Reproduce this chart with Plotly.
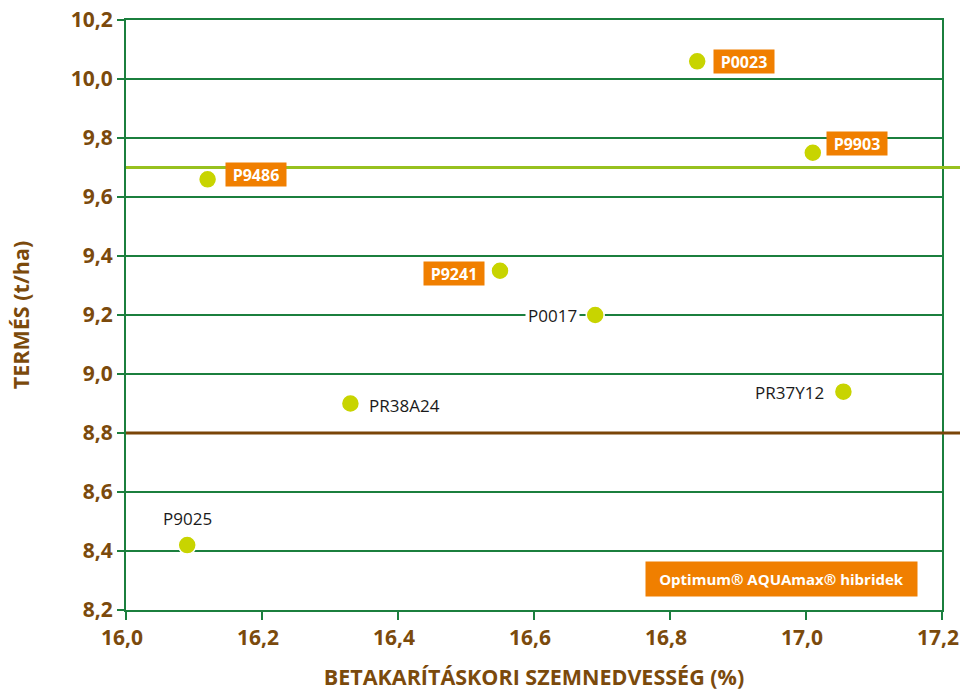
import plotly.graph_objects as go

hybrids = ["P0023", "P9903", "P9486", "P9241", "P0017", "PR38A24", "PR37Y12", "P9025"]
moisture = [16.84, 17.01, 16.12, 16.55, 16.69, 16.33, 17.055, 16.09]
yield_t = [10.06, 9.75, 9.66, 9.35, 9.20, 8.90, 8.94, 8.42]
optimum = [True, True, True, True, False, False, False, False]
label_side = ["right", "right", "right", "left", "left", "right", "left", "top"]
ref_high = 9.7
ref_low = 8.8
x_ticks = [16.0, 16.2, 16.4, 16.6, 16.8, 17.0, 17.2]
y_ticks = [8.2, 8.4, 8.6, 8.8, 9.0, 9.2, 9.4, 9.6, 9.8, 10.0, 10.2]

# label offsets in pixels (style only)
label_dx = [16, 13, 17, -15, -15, 16, -16, 0]
label_dy = [0, 9, 5, -3, 0, -2, -1, 12]

GREEN = "#1b7f3e"
BROWN = "#7b4a0c"
ORANGE = "#f07f00"
LIME = "#c8d400"
FONT = "Open Sans"

fig = go.Figure()

fig.add_shape(type="line", xref="paper", yref="y", x0=0, x1=1.05, y0=ref_high, y1=ref_high,
              line=dict(color="#97c11f", width=3), layer="above")
fig.add_shape(type="line", xref="paper", yref="y", x0=0, x1=1.05, y0=ref_low, y1=ref_low,
              line=dict(color="#7a4508", width=3), layer="above")

fig.add_trace(go.Scatter(x=moisture, y=yield_t, mode="markers",
                         marker=dict(color=LIME, size=18, line=dict(color="white", width=1.5)),
                         hoverinfo="text", text=hybrids, showlegend=False, cliponaxis=False))

for name, x, y, opt, side, dx, dy in zip(hybrids, moisture, yield_t, optimum, label_side,
                                         label_dx, label_dy):
    kw = dict(x=x, y=y, text=f"<b>{name}</b>" if opt else name, showarrow=False,
              xshift=dx, yshift=dy,
              font=dict(family=FONT, size=17 if not opt else 16,
                        color="white" if opt else "#1a1a1a"))
    if opt:
        kw.update(bgcolor=ORANGE, borderpad=2, width=56, height=19)
    else:
        kw.update(bgcolor="white", borderpad=2)
    if side == "right":
        kw.update(xanchor="left")
    elif side == "left":
        kw.update(xanchor="right")
    else:
        kw.update(yanchor="bottom")
    fig.add_annotation(**kw)

fig.add_annotation(xref="paper", yref="paper", x=0.97, y=0.0525, xanchor="right", yanchor="middle",
                   text="<b>Optimum® AQUAmax® hibridek</b>", showarrow=False,
                   font=dict(family=FONT, size=15, color="white"), bgcolor=ORANGE,
                   width=259, height=22, borderpad=6)

fig.update_layout(
    width=960, height=693,
    margin=dict(l=126, r=18, t=20, b=83),
    paper_bgcolor="white", plot_bgcolor="white",
    separators=", ",
    font=dict(family=FONT, color=BROWN),
    xaxis=dict(range=[16.0, 17.2], tickvals=x_ticks, tickformat=".1f", showgrid=False,
               showline=True, mirror=True, linecolor=GREEN, linewidth=2,
               ticks="outside", ticklen=8, tickwidth=2, tickcolor=GREEN,
               tickfont=dict(family=FONT, size=21, color=BROWN, weight="bold"),
               ticklabeloverflow="allow", automargin=False, ticklabelshift=-4,
               title=dict(text="<b>BETAKARÍTÁSKORI SZEMNEDVESSÉG (%)</b>",
                          font=dict(family=FONT, size=21.5, color=BROWN), standoff=20),
               zeroline=False),
    yaxis=dict(range=[8.2, 10.2], tickvals=y_ticks, tickformat=".1f", showgrid=True,
               gridcolor=GREEN, gridwidth=2,
               showline=True, mirror=True, linecolor=GREEN, linewidth=2,
               ticks="outside", ticklen=7, tickwidth=2, tickcolor=GREEN,
               tickfont=dict(family=FONT, size=21, color=BROWN, weight="bold"),
               ticklabeloverflow="allow", automargin=False,
               title=dict(text="<b>TERMÉS (t/ha)</b>",
                          font=dict(family=FONT, size=21.5, color=BROWN), standoff=35),
               zeroline=False),
)

fig.write_html("out.html", config={"displayModeBar": False},
               post_script="document.body.style.margin='0';document.body.style.overflow='hidden';")
